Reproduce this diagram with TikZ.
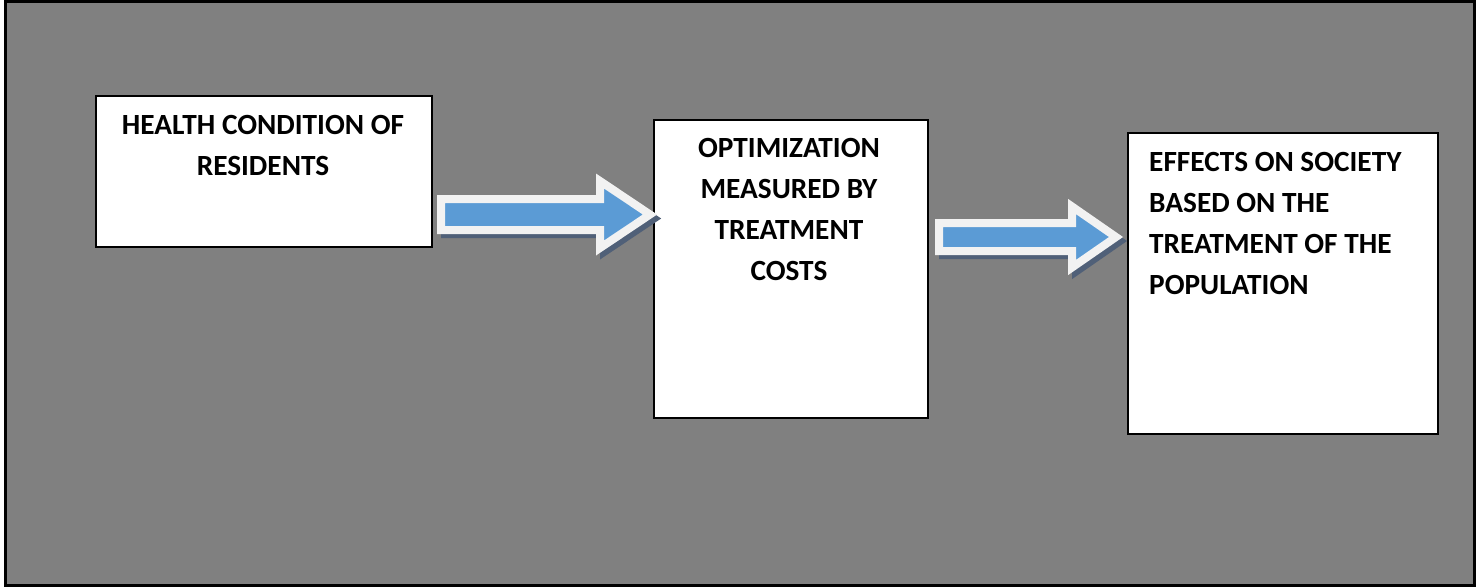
\documentclass[tikz,border=0pt]{standalone}
\usepackage{fontspec}
\setmainfont{Carlito}
\definecolor{bggray}{RGB}{128,128,128}
\definecolor{arrowblue}{RGB}{91,155,213}
\definecolor{arrowrim}{RGB}{242,242,242}
\definecolor{arrowshade}{RGB}{80,96,120}
\tikzset{
  boxnode/.style={draw=black, line width=1.6pt, fill=white, inner sep=0pt, anchor=north west},
  boxtext/.style={font=\fontsize{29.3}{41}\selectfont\bfseries, inner sep=0pt, text=black},
  arrowbody/.style={fill=arrowblue, draw=arrowrim, line width=8pt, line join=miter},
  arrowshadow/.style={fill=arrowshade, draw=arrowshade, line width=8pt, line join=miter}
}
% #1 left x, #2 head base x, #3 tip x, #4 centre y, #5 shaft half height, #6 head half height, #7 name
\newcommand\blockarrow[7]{%
  \coordinate (#7-tail) at (#1,#4);
  \coordinate (#7-tip) at (#3,#4);
  \filldraw[arrowshadow, shift={(4,4)}] (#1,#4-#5) -- (#2,#4-#5) -- (#2,#4-#6) -- (#3,#4) -- (#2,#4+#6) -- (#2,#4+#5) -- (#1,#4+#5) -- cycle;
  \filldraw[arrowbody] (#1,#4-#5) -- (#2,#4-#5) -- (#2,#4-#6) -- (#3,#4) -- (#2,#4+#6) -- (#2,#4+#5) -- (#1,#4+#5) -- cycle;
}
\begin{document}
\begin{tikzpicture}[x=1pt,y=-1pt]
\useasboundingbox (0,0) rectangle (1481,587);
\fill[white] (0,0) rectangle (1481,587);
\draw[line width=2.6pt, fill=bggray] (5.3,1.3) rectangle (1474.7,585.7);

% boxes
\node[boxnode, minimum width=336pt, minimum height=151pt] (b1) at (95,95) {};
\node[boxnode, minimum width=274pt, minimum height=298pt] (b2) at (653,119) {};
\node[boxnode, minimum width=310pt, minimum height=301pt] (b3) at (1127,132) {};

% texts
\node[boxtext, align=center, anchor=north] (t1) at (263,115) {HEALTH CONDITION OF\\RESIDENTS};
\node[boxtext, align=center, anchor=north] (t2) at (789,138.5) {OPTIMIZATION\\MEASURED BY\\TREATMENT\\COSTS};
\node[boxtext, align=left, anchor=north west] (t3) at (1149,152.5) {EFFECTS ON SOCIETY\\BASED ON THE\\TREATMENT OF THE\\POPULATION};

% block arrows
\blockarrow{441}{600}{650}{214.5}{15.5}{33.5}{a1}
\blockarrow{939}{1072}{1116}{237}{14}{30.5}{a2}
\end{tikzpicture}
\end{document}
